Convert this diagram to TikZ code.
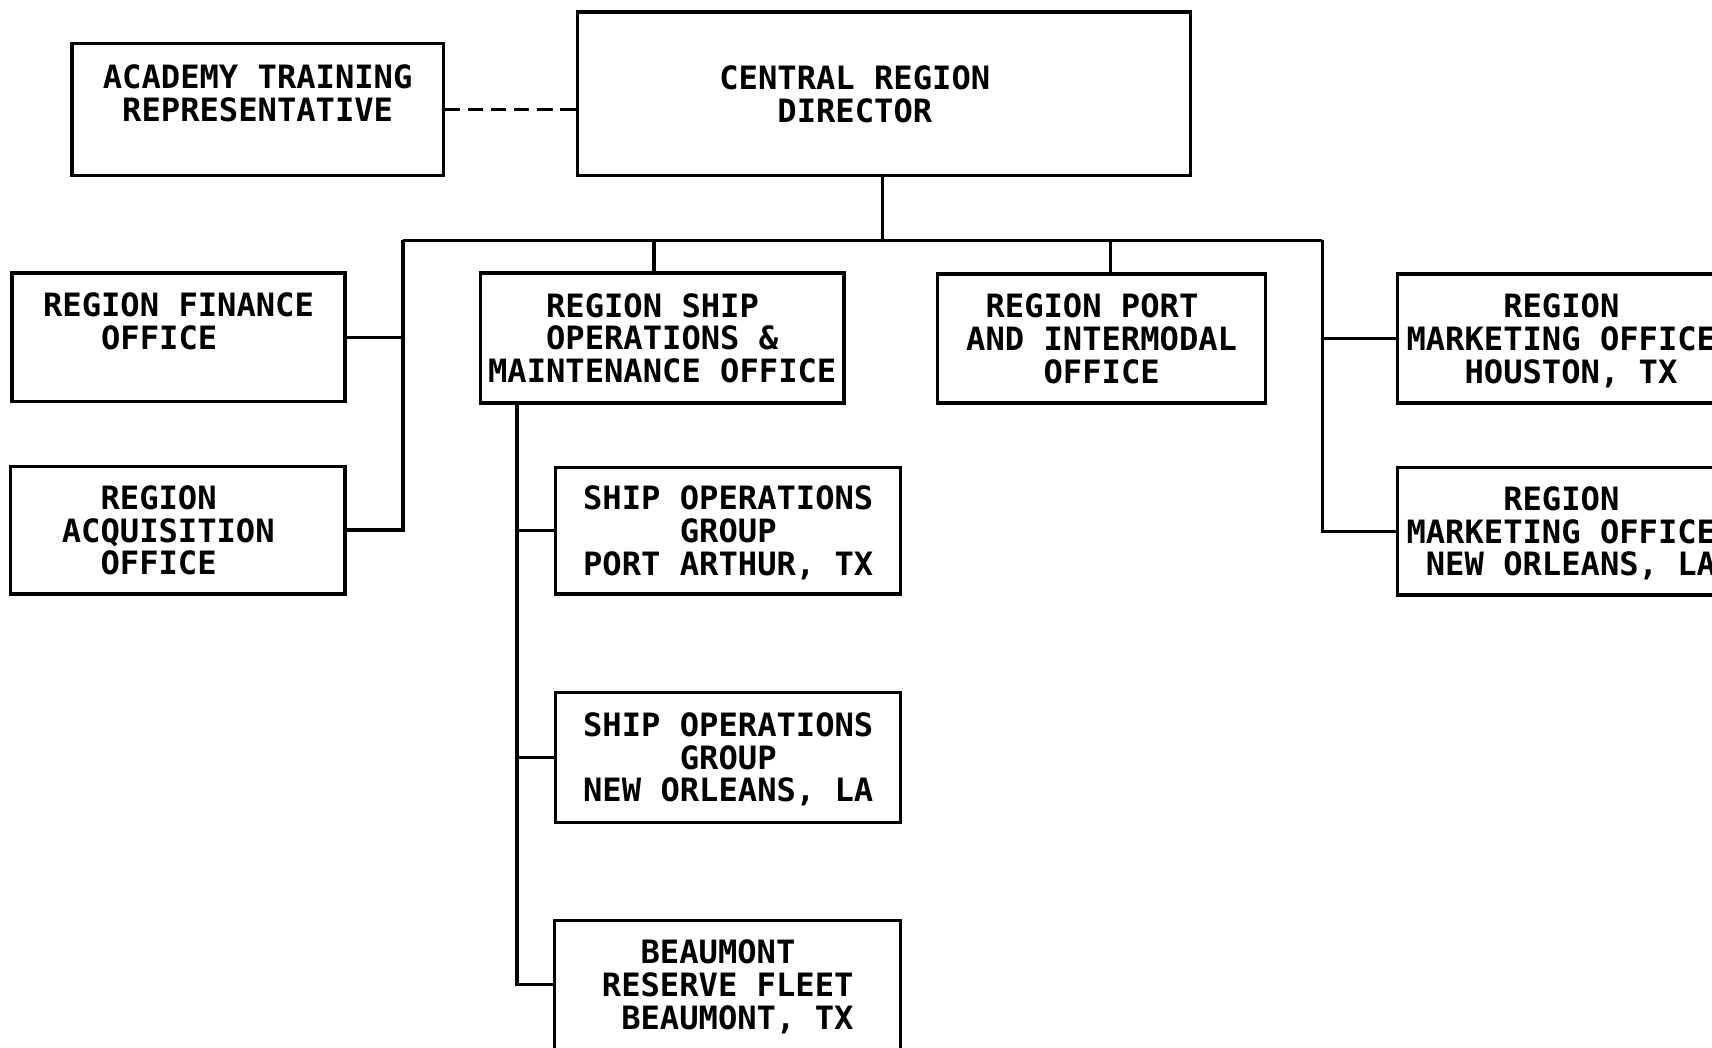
\documentclass[tikz,border=0pt]{standalone}
\usepackage{fontspec}
\usepackage{tikz}
\usetikzlibrary{positioning, calc}
\newfontfamily\plotfont{DejaVu Sans Mono}
\definecolor{ink}{rgb}{0.0, 0.0, 0.0}

\tikzset{
    office/.style={draw=ink, line width=0.85pt, inner sep=0pt, align=left, text depth=0pt,
        text=ink, font=\plotfont\bfseries\fontsize{8.37pt}{8.54pt}\selectfont},
    link/.style={draw=ink, line width=0.85pt},
    dashlink/.style={link, dash pattern=on 4pt off 2pt}
}

\begin{document}
\begin{tikzpicture}[x=0.01cm, y=-0.01cm]
            \useasboundingbox (0,0) rectangle (1568,959);

            \node[office, minimum width=3.40cm, minimum height=1.21cm] (acad) at (236,100.5) {ACADEMY TRAINING\\~REPRESENTATIVE\\~};
            \node[office, minimum width=5.61cm, minimum height=1.50cm] (dir) at (809.5,86) {CENTRAL REGION\hphantom{XXX}\\~~~DIRECTOR};

            \node[office, minimum width=3.05cm, minimum height=1.18cm] (fin) at (163.5,309) {REGION FINANCE\\~~~OFFICE\\~};
            \node[office, minimum width=3.06cm, minimum height=1.17cm] (acq) at (163,485.5) {~~REGION\\ACQUISITION\hphantom{X}\\~~OFFICE};

            \node[office, minimum width=3.33cm, minimum height=1.19cm] (ops) at (606.5,309.5) {~~~REGION SHIP\\~~~OPERATIONS \&\\MAINTENANCE OFFICE};
            \node[office, minimum width=3.00cm, minimum height=1.18cm] (port) at (1009,310) {~REGION PORT\\AND INTERMODAL\\~~~~OFFICE};

            \node[office, minimum width=3.00cm, minimum height=1.18cm] (mkhou) at (1430,310) {~~~~~REGION\\MARKETING OFFICE\\~~~HOUSTON, TX};
            \node[office, minimum width=3.00cm, minimum height=1.17cm] (mkno) at (1430,486.5) {~~~~~REGION\\MARKETING OFFICE\\~NEW ORLEANS, LA};

            \node[office, minimum width=3.16cm, minimum height=1.16cm] (sogpa) at (667,486) {SHIP OPERATIONS\\~~~~~GROUP\\PORT ARTHUR, TX};
            \node[office, minimum width=3.16cm, minimum height=1.19cm] (sogno) at (667,693.5) {SHIP OPERATIONS\\~~~~~GROUP\\NEW ORLEANS, LA};
            \node[office, minimum width=3.17cm, minimum height=1.18cm] (beau) at (666.5,902) {~~BEAUMONT\\RESERVE FLEET\\~BEAUMONT, TX};

            % reporting lines
            \coordinate (busL) at (369,220);
            \coordinate (busR) at (1211,220);
            \coordinate (trunk) at ([xshift=0.35cm]ops.south west);

            \draw[dashlink] (acad.east) -- (acad.east -| dir.west);
            \draw[link] ([xshift=-0.015cm]dir.south) -- ([xshift=-0.015cm]dir.south |- busL);
            \draw[link] (busL) -- (busR);

            \draw[link] (busL) -- (busL |- acq.east) -- (acq.east);
            \draw[link] (fin.east) -- (fin.east -| busL);
            \draw[link] ([xshift=-0.075cm]ops.north) -- ([xshift=-0.075cm]ops.north |- busL);
            \draw[link] ([xshift=0.08cm]port.north) -- ([xshift=0.08cm]port.north |- busL);
            \draw[link] (busR) -- (busR |- mkno.west) -- (mkno.west);
            \draw[link] (mkhou.west) -- (mkhou.west -| busR);

            \draw[link] (trunk) -- (trunk |- beau.west) -- (beau.west);
            \draw[link] (sogpa.west) -- (sogpa.west -| trunk);
            \draw[link] (sogno.west) -- (sogno.west -| trunk);
        \end{tikzpicture}
\end{document}
